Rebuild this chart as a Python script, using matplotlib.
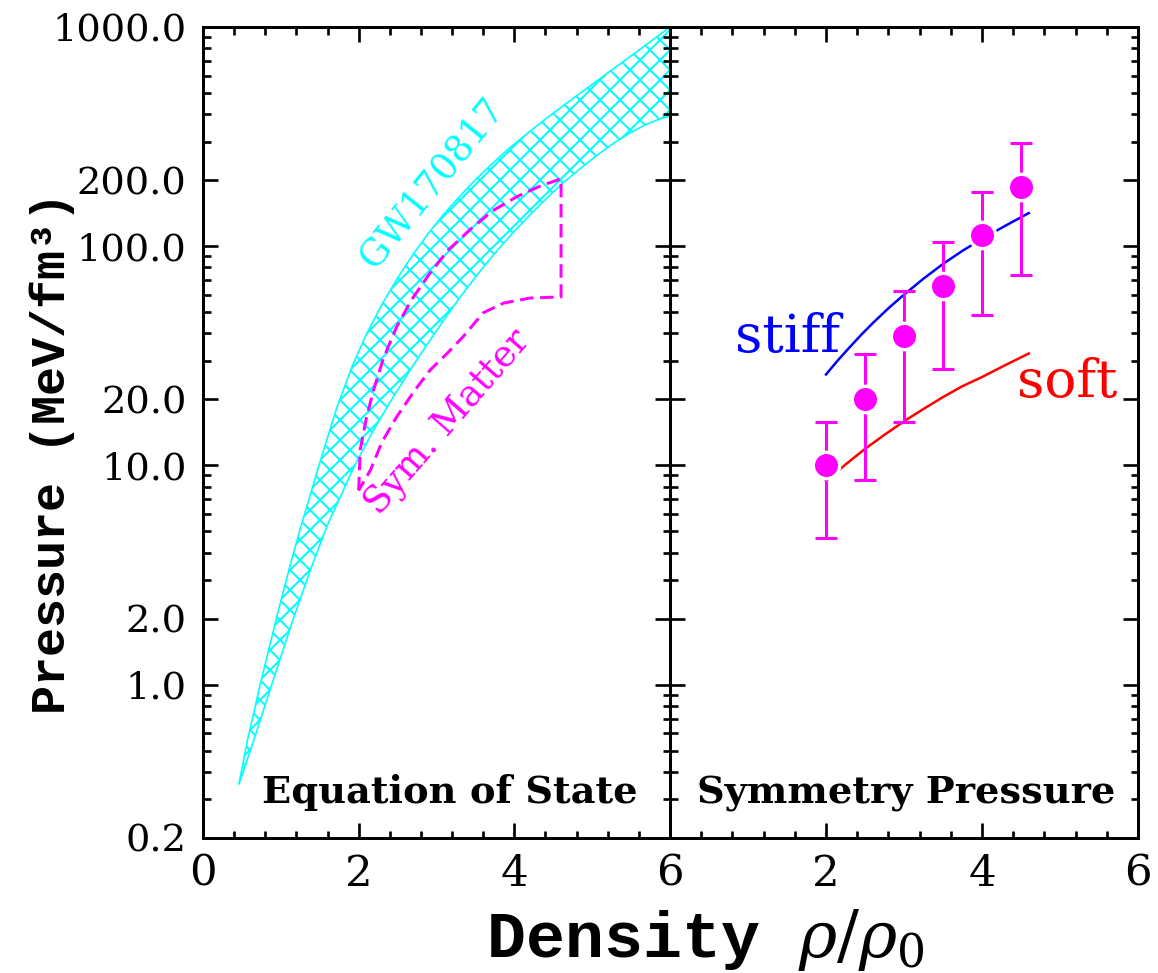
import numpy as np
import matplotlib
matplotlib.use('Agg')
import matplotlib.pyplot as plt
from matplotlib.ticker import FixedLocator, MultipleLocator, FormatStrFormatter, NullFormatter

# GW170817 band, upper (left) and lower (right) edges
gw_upper_rho = [0.46, 0.57, 0.74, 0.96, 1.13, 1.25, 1.49, 1.72, 1.92, 2.1, 2.3, 2.5, 2.7,
                2.9, 3.1, 3.3, 3.5, 3.7, 3.9, 4.1, 4.4, 4.7, 5.0, 5.3, 5.65, 6.0]
gw_upper_p = [0.35, 0.555, 1.02, 2.12, 3.61, 5.15, 10.0, 18.4, 28.5, 39.7, 54.3, 71.6, 91.8,
              115.0, 141.0, 169.0, 201.0, 235.0, 273.0, 313.0, 380.0, 457.0, 547.0, 655.0,
              807.0, 1000.0]
gw_lower_rho = [0.46, 0.63, 0.88, 1.15, 1.38, 1.6, 1.94, 2.2, 2.45, 2.7, 2.9, 3.13, 3.35,
                3.56, 3.78, 4.0, 4.21, 4.42, 4.63, 4.84, 5.05, 5.27, 5.48, 5.7, 5.85, 6.0]
gw_lower_p = [0.35, 0.528, 0.994, 1.95, 3.34, 5.36, 9.86, 14.7, 20.7, 28.6, 36.5, 48.1, 61.6,
              76.9, 95.7, 117.0, 140.0, 166.0, 195.0, 225.0, 258.0, 294.0, 328.0, 360.0,
              378.0, 393.0]

# symmetric matter region (closed dashed contour)
sym_rho = [2.0, 2.02, 2.1, 2.19, 2.32, 2.49, 2.68, 2.9, 3.15, 3.43, 3.72, 4.03, 4.33, 4.6,
           4.6, 4.2, 3.86, 3.6, 3.34, 3.12, 2.92, 2.7, 2.49, 2.3, 2.15, 2.0]
sym_p = [7.7, 11.8, 16.5, 22.0, 31.0, 43.0, 57.0, 74.0, 96.0, 119.0, 145.0, 168.0, 188.0,
         203.0, 58.7, 58.0, 55.0, 49.7, 38.6, 32.0, 27.3, 21.5, 16.7, 12.8, 9.5, 7.7]

# symmetry pressure
stiff_rho = [2.0, 2.15, 2.3, 2.45, 2.6, 2.8, 3.0, 3.25, 3.5, 3.75, 4.0, 4.3, 4.6]
stiff_p = [26.0, 30.1, 34.5, 39.4, 44.6, 52.1, 60.1, 71.1, 83.0, 95.3, 108.0, 124.0, 141.6]
soft_rho = [2.0, 2.25, 2.5, 2.75, 3.0, 3.25, 3.5, 3.75, 4.0, 4.3, 4.6]
soft_p = [8.5, 10.1, 11.9, 13.8, 15.9, 18.1, 20.5, 23.0, 25.3, 28.7, 32.4]

pts_rho = [2.0, 2.5, 3.0, 3.5, 4.0, 4.5]
pts_p = [10.0, 20.0, 39.0, 66.0, 112.0, 186.0]
pts_hi = [15.8, 32.3, 62.5, 105.0, 176.0, 296.0]
pts_lo = [4.65, 8.6, 15.8, 27.6, 48.5, 74.0]

y_major = [0.2, 1, 2, 10, 20, 100, 200, 1000]
y_minor = [0.3, 0.4, 0.5, 0.6, 0.7, 0.8, 0.9, 3, 4, 5, 6, 7, 8, 9,
           30, 40, 50, 60, 70, 80, 90, 300, 400, 500, 600, 700, 800, 900]

CYAN = '#00ffff'
MAGENTA = '#ff00ff'

plt.rcParams['hatch.color'] = CYAN
plt.rcParams['hatch.linewidth'] = 1.2
plt.rcParams['mathtext.fontset'] = 'dejavuserif'

fig = plt.figure(figsize=(11.58 / 1.2, 9.73 / 1.2), dpi=120)
ax1 = fig.add_axes([0.1753, 0.1388, 0.4033, 0.8335])
ax2 = fig.add_axes([0.5786, 0.1388, 0.4041, 0.8335])


def style_axes(ax):
    ax.set_yscale('log')
    ax.set_xlim(0, 6)
    ax.set_ylim(0.2, 1000)
    ax.yaxis.set_major_locator(FixedLocator(y_major))
    ax.yaxis.set_minor_locator(FixedLocator(y_minor))
    ax.yaxis.set_major_formatter(FormatStrFormatter('%.1f'))
    ax.yaxis.set_minor_formatter(NullFormatter())
    ax.xaxis.set_major_locator(FixedLocator([0, 2, 4, 6]))
    ax.xaxis.set_minor_locator(MultipleLocator(0.4))
    ax.tick_params(which='both', direction='in', top=True, right=True, width=1.6)
    ax.tick_params(which='major', length=9)
    ax.tick_params(which='minor', length=4.5)
    ax.tick_params(axis='y', pad=10, labelsize=23)
    ax.tick_params(axis='x', pad=9, labelsize=26)
    for sp in ax.spines.values():
        sp.set_linewidth(1.8)
    for lab in ax.get_xticklabels() + ax.get_yticklabels():
        lab.set_family('DejaVu Serif')


style_axes(ax1)
style_axes(ax2)
ax2.tick_params(labelleft=False)
ax2.set_xticklabels(['', '2', '4', '6'])

# left panel: equation of state
band_x = gw_upper_rho + gw_lower_rho[::-1]
band_y = gw_upper_p + gw_lower_p[::-1]
ax1.fill(band_x, band_y, facecolor='none', edgecolor=CYAN, hatch='xx', linewidth=1.0)
ax1.plot(sym_rho, sym_p, color=MAGENTA, linestyle=(0, (4.5, 2.2)), linewidth=1.8)

ax1.text(2.94, 195, 'GW170817', color=CYAN, fontsize=22, family='DejaVu Serif',
         rotation=51, ha='center', va='center', rotation_mode='anchor')
ax1.text(3.15, 15.6, 'Sym. Matter', color=MAGENTA, fontsize=22, family='DejaVu Serif',
         rotation=49, ha='center', va='center', rotation_mode='anchor')
ax1.text(0.126, 0.043, 'Equation of State', transform=ax1.transAxes, fontsize=23,
         family='DejaVu Serif', weight='bold')

# right panel: symmetry pressure
ax2.plot(stiff_rho, stiff_p, color='blue', linewidth=1.5)
ax2.plot(soft_rho, soft_p, color='red', linewidth=1.5)
p = np.array(pts_p)
ax2.errorbar(pts_rho, pts_p, yerr=[p - np.array(pts_lo), np.array(pts_hi) - p],
             fmt='none', ecolor=MAGENTA, elinewidth=1.8, capsize=6.5, capthick=1.8,
             zorder=3)
ax2.plot(pts_rho, pts_p, 'o', markersize=15.8, markerfacecolor=MAGENTA,
         markeredgecolor='white', markeredgewidth=2, zorder=4)

ax2.text(0.83, 33, 'stiff', color='blue', fontsize=32, family='DejaVu Serif')
ax2.text(4.45, 20.5, 'soft', color='red', fontsize=32, family='DejaVu Serif')
ax2.text(0.058, 0.043, 'Symmetry Pressure', transform=ax2.transAxes, fontsize=23,
         family='DejaVu Serif', weight='bold')

fig.text(0.045, 0.534, 'Pressure (MeV/fm³)', fontsize=29, family='Liberation Mono',
         weight='bold', rotation=90, ha='center', va='center')
fig.text(0.609, 0.016, r'Density $\rho/\rho_0$', fontsize=39, family='Liberation Mono',
         weight='bold', ha='center', va='baseline')

fig.savefig('out.png', dpi=120)
